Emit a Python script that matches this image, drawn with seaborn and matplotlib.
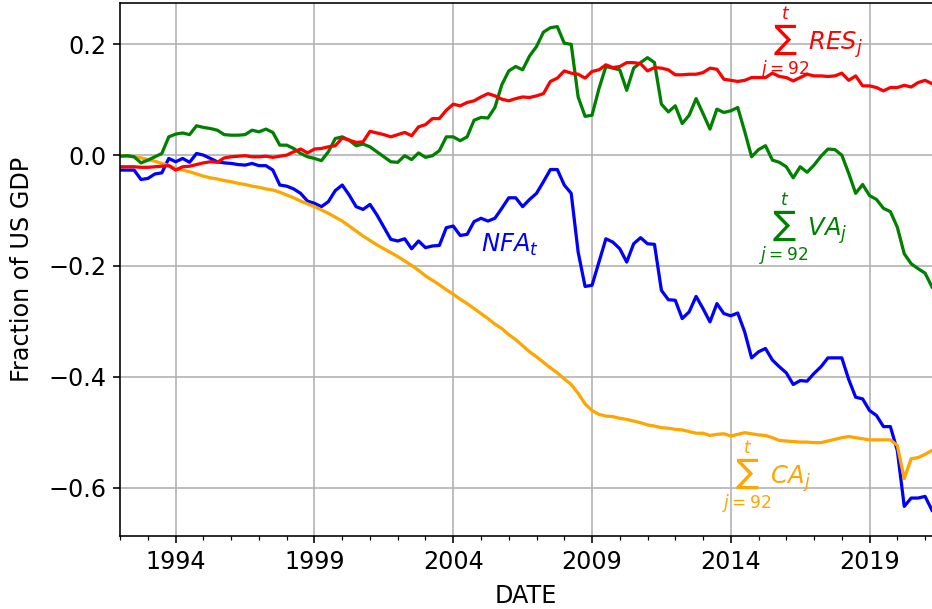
import numpy as np
import pandas as pd
import matplotlib
matplotlib.use("Agg")
import matplotlib.pyplot as plt
from matplotlib.ticker import FixedLocator, MultipleLocator
import seaborn as sns

# ---------------- data (fractions of US GDP, quarterly 1992Q1-2021Q2) ----------------
quarters = pd.period_range("1992Q1", "2021Q2", freq="Q")

nfa = [-0.027, -0.027, -0.027, -0.044, -0.042, -0.034, -0.032, -0.006, -0.012, -0.006,
       -0.013, 0.003, 0.000, -0.006, -0.012, -0.014, -0.015, -0.017, -0.018, -0.015,
       -0.019, -0.019, -0.027, -0.054, -0.056, -0.061, -0.069, -0.083, -0.087, -0.093,
       -0.084, -0.064, -0.054, -0.072, -0.093, -0.098, -0.089, -0.108, -0.130, -0.152,
       -0.155, -0.151, -0.169, -0.155, -0.167, -0.164, -0.163, -0.131, -0.128, -0.145,
       -0.143, -0.120, -0.114, -0.119, -0.114, -0.096, -0.077, -0.077, -0.093, -0.080,
       -0.069, -0.048, -0.026, -0.026, -0.054, -0.069, -0.175, -0.237, -0.235, -0.193,
       -0.151, -0.157, -0.169, -0.193, -0.160, -0.149, -0.160, -0.161, -0.244, -0.261,
       -0.262, -0.295, -0.283, -0.255, -0.277, -0.301, -0.268, -0.286, -0.290, -0.285,
       -0.319, -0.366, -0.355, -0.349, -0.370, -0.382, -0.393, -0.414, -0.407, -0.408,
       -0.394, -0.382, -0.366, -0.366, -0.366, -0.405, -0.437, -0.440, -0.461, -0.470,
       -0.490, -0.490, -0.533, -0.634, -0.619, -0.619, -0.616, -0.641]

cum_ca = [-0.001, -0.002, -0.003, -0.005, -0.008, -0.011, -0.015, -0.019, -0.024, -0.027,
          -0.030, -0.034, -0.038, -0.041, -0.043, -0.046, -0.048, -0.051, -0.053, -0.056,
          -0.058, -0.061, -0.063, -0.067, -0.072, -0.077, -0.083, -0.088, -0.093, -0.099,
          -0.105, -0.112, -0.119, -0.128, -0.137, -0.146, -0.154, -0.162, -0.169, -0.176,
          -0.183, -0.191, -0.199, -0.208, -0.218, -0.226, -0.234, -0.243, -0.251, -0.260,
          -0.268, -0.277, -0.286, -0.295, -0.305, -0.313, -0.324, -0.333, -0.344, -0.355,
          -0.364, -0.374, -0.384, -0.393, -0.404, -0.414, -0.430, -0.449, -0.461, -0.468,
          -0.471, -0.472, -0.475, -0.477, -0.480, -0.483, -0.487, -0.489, -0.492, -0.493,
          -0.495, -0.496, -0.499, -0.502, -0.502, -0.506, -0.504, -0.503, -0.507, -0.504,
          -0.501, -0.503, -0.505, -0.506, -0.510, -0.515, -0.516, -0.517, -0.518, -0.518,
          -0.519, -0.519, -0.516, -0.513, -0.510, -0.508, -0.510, -0.512, -0.514, -0.514,
          -0.514, -0.514, -0.524, -0.584, -0.548, -0.546, -0.540, -0.533]

cum_va = [-0.002, -0.001, -0.003, -0.014, -0.009, -0.003, 0.003, 0.033, 0.038, 0.040,
          0.037, 0.053, 0.050, 0.048, 0.045, 0.037, 0.036, 0.036, 0.037, 0.045,
          0.042, 0.047, 0.041, 0.018, 0.018, 0.012, 0.003, -0.003, -0.006, -0.010,
          0.006, 0.030, 0.033, 0.027, 0.017, 0.020, 0.015, 0.006, -0.003, -0.012,
          -0.013, -0.001, -0.008, 0.004, -0.004, -0.001, 0.008, 0.033, 0.033, 0.026,
          0.033, 0.063, 0.068, 0.067, 0.086, 0.127, 0.152, 0.160, 0.154, 0.179,
          0.196, 0.222, 0.230, 0.232, 0.202, 0.200, 0.105, 0.070, 0.072, 0.120,
          0.160, 0.157, 0.154, 0.117, 0.157, 0.167, 0.176, 0.167, 0.092, 0.078,
          0.089, 0.057, 0.072, 0.102, 0.075, 0.047, 0.083, 0.077, 0.080, 0.086,
          0.043, -0.003, 0.010, 0.017, -0.009, -0.013, -0.021, -0.041, -0.021, -0.031,
          -0.018, -0.002, 0.011, 0.010, 0.000, -0.033, -0.069, -0.053, -0.073, -0.080,
          -0.096, -0.102, -0.130, -0.178, -0.196, -0.205, -0.213, -0.238]

cum_res = [-0.021, -0.021, -0.021, -0.022, -0.022, -0.021, -0.020, -0.019, -0.027, -0.021,
           -0.020, -0.017, -0.014, -0.012, -0.013, -0.005, -0.003, -0.002, -0.001, -0.003,
           -0.003, -0.002, -0.004, -0.002, 0.000, 0.006, 0.011, 0.004, 0.011, 0.012,
           0.015, 0.017, 0.031, 0.027, 0.023, 0.024, 0.043, 0.040, 0.037, 0.033,
           0.037, 0.041, 0.035, 0.051, 0.055, 0.066, 0.066, 0.081, 0.092, 0.089,
           0.095, 0.098, 0.105, 0.111, 0.107, 0.101, 0.098, 0.102, 0.105, 0.104,
           0.107, 0.111, 0.133, 0.139, 0.152, 0.148, 0.146, 0.139, 0.151, 0.154,
           0.163, 0.158, 0.160, 0.167, 0.167, 0.165, 0.152, 0.158, 0.157, 0.154,
           0.145, 0.145, 0.146, 0.146, 0.149, 0.157, 0.155, 0.137, 0.135, 0.133,
           0.135, 0.140, 0.140, 0.140, 0.148, 0.142, 0.140, 0.134, 0.140, 0.146,
           0.143, 0.143, 0.142, 0.143, 0.148, 0.135, 0.143, 0.125, 0.125, 0.122,
           0.116, 0.122, 0.122, 0.126, 0.123, 0.131, 0.135, 0.129]

major_years = [1994, 1999, 2004, 2009, 2014, 2019]
x_label = "DATE"
y_label = "Fraction of US GDP"

series_labels = {
    "NFA": r"$NFA_t$",
    "CA": r"$\sum_{j=92}^{t} CA_j$",
    "VA": r"$\sum_{j=92}^{t} VA_j$",
    "RES": r"$\sum_{j=92}^{t} RES_j$",
}
series_colors = {"NFA": "blue", "CA": "orange", "VA": "green", "RES": "red"}

# ---------------- build table ----------------
t = quarters.year + (quarters.quarter - 1) / 4.0
df = pd.DataFrame({"DATE": t, "NFA": nfa, "CA": cum_ca, "VA": cum_va, "RES": cum_res})

# ---------------- styling ----------------
S = 1.456
FS = 17.2
plt.rcParams.update({
    "font.family": ["DejaVu Sans"],
    "font.size": FS,
    "axes.labelsize": FS,
    "xtick.labelsize": FS,
    "ytick.labelsize": FS,
    "axes.linewidth": 0.8 * S,
    "lines.linewidth": 1.6 * S,
    "xtick.major.size": 3.5 * S,
    "ytick.major.size": 3.5 * S,
    "xtick.minor.size": 2 * S,
    "xtick.major.width": 0.8 * S,
    "ytick.major.width": 0.8 * S,
    "xtick.minor.width": 0.6 * S,
    "xtick.major.pad": 3.5 * S,
    "ytick.major.pad": 3.5 * S,
    "axes.labelpad": 4 * S,
    "grid.linewidth": 0.8 * S,
    "grid.color": "#b0b0b0",
    "mathtext.fontset": "dejavusans",
})

W, H = 932, 609
fig = plt.figure(figsize=(W / 100, H / 100), dpi=100)
x0, x1 = 120.2, 932.0
y0, y1 = 535.5, 3.0
ax = fig.add_axes([x0 / W, 1 - y0 / H, (x1 - x0) / W, (y0 - y1) / H])

for key in ["NFA", "CA", "VA", "RES"]:
    sns.lineplot(data=df, x="DATE", y=key, color=series_colors[key], ax=ax,
                 linewidth=1.6 * S, legend=False)

ax.set_xlim(df["DATE"].iloc[0], df["DATE"].iloc[-1])
ax.set_ylim(-0.6866, 0.2746)
ax.xaxis.set_major_locator(FixedLocator(major_years))
ax.xaxis.set_minor_locator(MultipleLocator(1))
ax.yaxis.set_major_locator(MultipleLocator(0.2))
ax.set_xticklabels([str(y) for y in major_years])
ax.grid(True, which="major")
ax.spines["right"].set_visible(False)
ax.set_xlabel(x_label, labelpad=4 * S + 1.5)
ax.set_ylabel(y_label, labelpad=4 * S + 4.5)

ann_fs = 12 * S
ax.text(2005.0, -0.174, series_labels["NFA"], color="blue", fontsize=ann_fs,
        ha="left", va="baseline")
ax.text(2015.07, 0.189, series_labels["RES"], color="red", fontsize=ann_fs,
        ha="left", va="baseline")
ax.text(2015.0, -0.147, series_labels["VA"], color="green", fontsize=ann_fs,
        ha="left", va="baseline")
ax.text(2013.7, -0.594, series_labels["CA"], color="orange", fontsize=ann_fs,
        ha="left", va="baseline")

fig.savefig("out.png", dpi=100)
